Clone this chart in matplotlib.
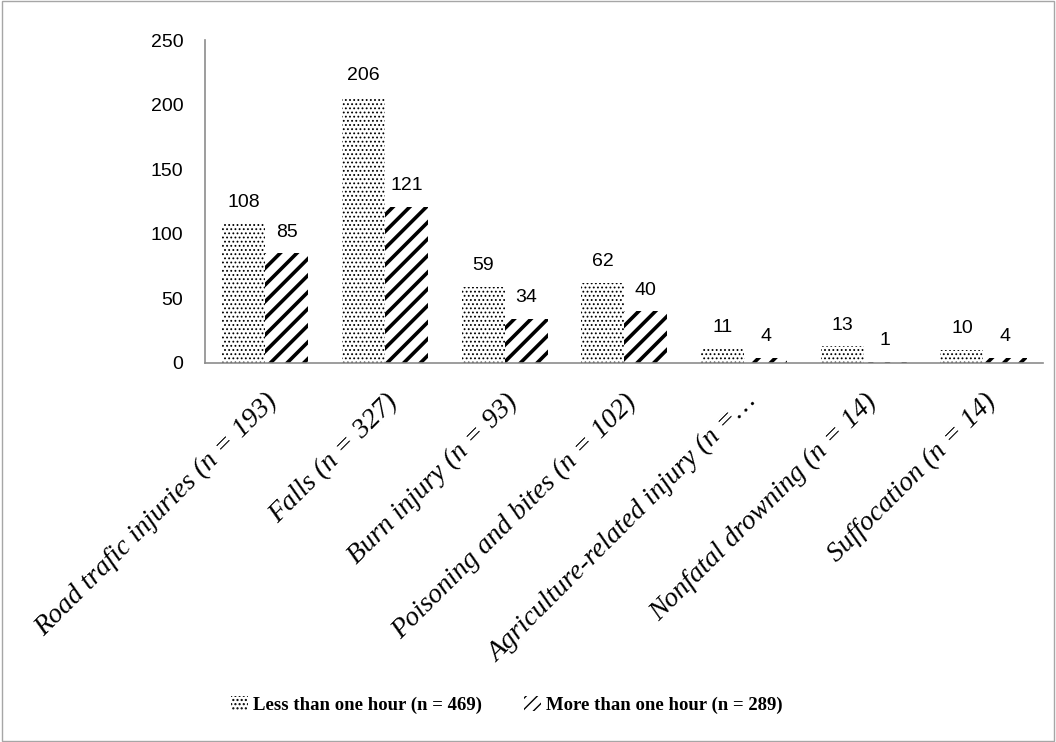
import numpy as np
import matplotlib
matplotlib.use("Agg")
import matplotlib.pyplot as plt
from matplotlib.patches import Rectangle, Patch

# data
categories = ["Road trafic injuries (n = 193)", "Falls (n = 327)",
              "Burn injury (n = 93)", "Poisoning and bites (n = 102)",
              "Agriculture-related injury (n =\u2026", "Nonfatal drowning (n = 14)",
              "Suffocation (n = 14)"]
less_than_hour = [108, 206, 59, 62, 11, 13, 10]
more_than_hour = [85, 121, 34, 40, 4, 1, 4]
series_names = ["Less than one hour (n = 469)", "More than one hour (n = 289)"]
yticks = [0, 50, 100, 150, 200, 250]

sans = ["Liberation Sans", "DejaVu Sans"]
serif = ["Liberation Serif", "DejaVu Serif"]
bw = 0.36


def set_hlw(patch, hlw):
    if hasattr(patch, "set_hatch_linewidth"):
        patch.set_hatch_linewidth(hlw)


def hatched_bars(ax, x, vals, hatch, hlw):
    """Draw black-hatched bars on white with no outline."""
    bars = ax.bar(x, vals, width=bw, color="white", edgecolor="black",
                  linewidth=0, hatch=hatch)
    for b in bars:
        set_hlw(b, hlw)
    return bars


fig = plt.figure(figsize=(10.56, 7.42), dpi=100)
ax = fig.add_axes([0.1945, 0.511, 0.7935, 0.435])

x = np.arange(len(categories))
with plt.rc_context({"hatch.linewidth": 0.8}):
    b1 = hatched_bars(ax, x - bw / 2, less_than_hour, "....", 0.8)
    h1 = Patch(facecolor="white", edgecolor="black", linewidth=0, hatch="....")
    set_hlw(h1, 0.8)
with plt.rc_context({"hatch.linewidth": 2.6}):
    b2 = hatched_bars(ax, x + bw / 2, more_than_hour, "//", 2.6)
    h2 = Patch(facecolor="white", edgecolor="black", linewidth=0, hatch="///")
    set_hlw(h2, 2.6)

# value labels above bars
for xs, vals in ((x - bw / 2, less_than_hour), (x + bw / 2, more_than_hour)):
    for xi, v in zip(xs, vals):
        ax.annotate(str(v), (xi, v), xytext=(0, 9), textcoords="offset points",
                    ha="center", va="bottom", fontsize=14, family=sans)

ax.set_xlim(-0.5, len(categories) - 0.5)
ax.set_ylim(0, 250)
ax.set_yticks(yticks)
ax.set_yticklabels([str(t) for t in yticks], family=sans, fontsize=14)
ax.tick_params(axis="y", length=0, pad=16)
ax.tick_params(axis="x", length=0, pad=19)
ax.set_xticks(x)
ax.set_xticklabels(categories, rotation=45, ha="right", va="top",
                   rotation_mode="anchor", family=serif, style="italic",
                   fontsize=20)

for side in ("top", "right"):
    ax.spines[side].set_visible(False)
for side in ("left", "bottom"):
    ax.spines[side].set_color("#8c8c8c")
    ax.spines[side].set_linewidth(1.2)

leg = fig.legend([h1, h2], series_names, loc="center",
                 bbox_to_anchor=(0.48, 0.05), ncol=2, frameon=False,
                 handlelength=0.9, handleheight=0.9, handletextpad=0.3,
                 columnspacing=2.2, prop={"family": serif, "weight": "bold",
                                          "size": 13.5})

# light grey border around the whole chart
fig.patches.append(Rectangle((0.002, 0.002), 0.996, 0.996, transform=fig.transFigure,
                             fill=False, edgecolor="#a6a6a6", linewidth=1.0))

fig.savefig("out.png", dpi=100)
